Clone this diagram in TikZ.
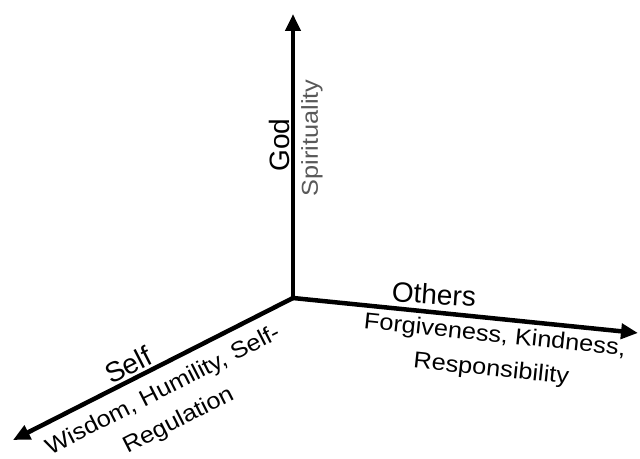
\documentclass[tikz,border=0pt]{standalone}
\usepackage{fontspec}
\setmainfont{Liberation Sans}
\usetikzlibrary{arrows.meta}

\tikzset{
  axis/.style={line width=4.5pt,-{Triangle[length=17pt,width=15pt]}},
  axisname/.style={font=\fontsize{28}{30}\selectfont},
  virtues/.style={font=\fontsize{23}{34}\selectfont,align=center,xscale=1.1},
}

\begin{document}
\begin{tikzpicture}[x=1pt,y=1pt]
  \useasboundingbox (0,0) rectangle (640,458);
  % the three axes, from one common origin
  \coordinate (origin) at (293,160);
  \coordinate (god) at (293,444);
  \coordinate (others) at (638,125);
  \coordinate (self) at (13,18);
  \draw[axis] (origin) -- (god);
  \draw[axis] (origin) -- (others);
  \draw[axis] (origin) -- (self);
  % the vertical axis
  \node[axisname,rotate=90] (godname) at (279,313) {God};
  \node[rotate=90,virtues,text=black!65] (godvirtues) at (312,320) {Spirituality};
  % the axis to the right
  \node[axisname,rotate=-4] (othersname) at (434,164) {Others};
  \node[rotate=-6,virtues] (othersvirtues) at (493,105) {Forgiveness, Kindness,\\ Responsibility};
  % the axis to the lower left
  \node[axisname,rotate=27] (selfname) at (128,93) {Self};
  \node[rotate=27,virtues] (selfvirtues) at (171,52) {Wisdom, Humility, Self-\\ Regulation};
\end{tikzpicture}
\end{document}
